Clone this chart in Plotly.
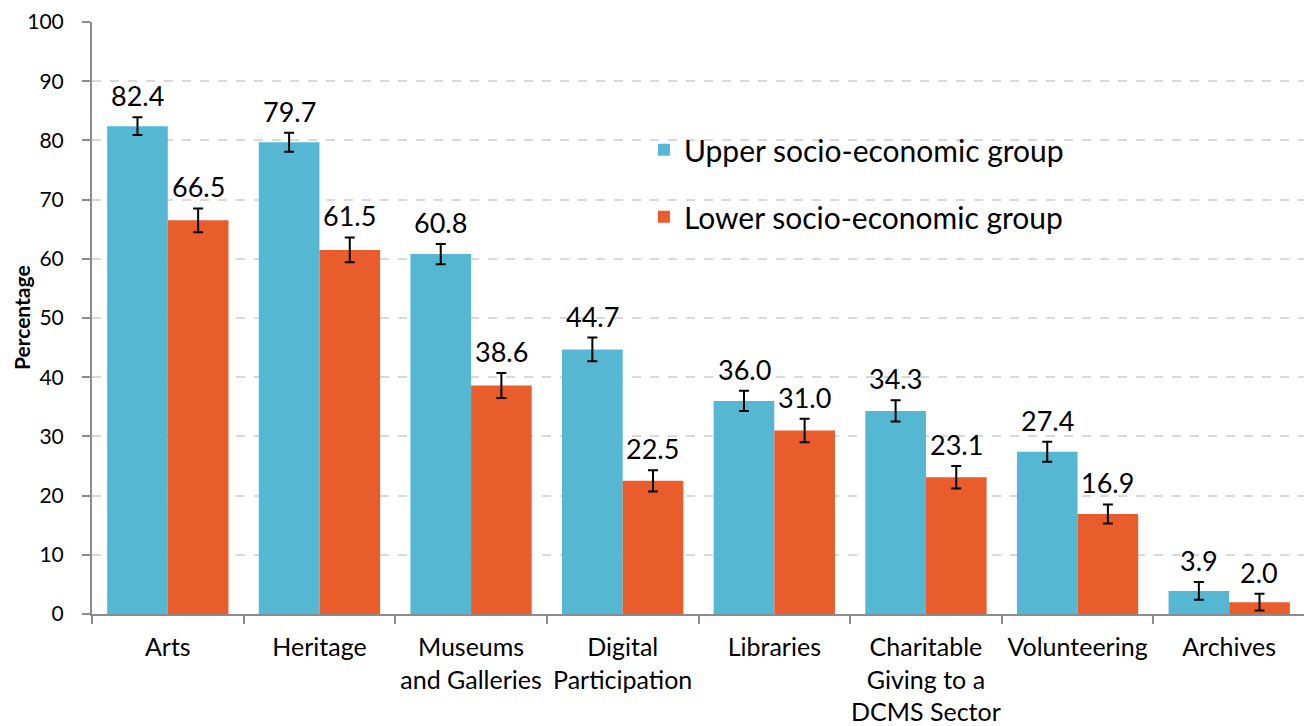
import plotly.graph_objects as go

categories = ["Arts", "Heritage", "Museums<br>and Galleries", "Digital<br>Participation",
              "Libraries", "Charitable<br>Giving to a<br>DCMS Sector", "Volunteering", "Archives"]
upper_values = [82.4, 79.7, 60.8, 44.7, 36.0, 34.3, 27.4, 3.9]
lower_values = [66.5, 61.5, 38.6, 22.5, 31.0, 23.1, 16.9, 2.0]
upper_errors = [1.5, 1.6, 1.7, 2.0, 1.7, 1.8, 1.7, 1.5]
lower_errors = [2.0, 2.1, 2.1, 1.8, 2.0, 1.9, 1.6, 1.4]
y_ticks = [0, 10, 20, 30, 40, 50, 60, 70, 80, 90, 100]

BLUE = "#56B7D3"
ORANGE = "#E95C2B"
FONT = "Lato, 'Open Sans', sans-serif"

fig = go.Figure()
fig.add_trace(go.Bar(
    x=categories, y=upper_values, name="Upper socio-economic group",
    marker=dict(color=BLUE, line=dict(width=0)),
    error_y=dict(type="data", array=upper_errors, color="black", thickness=2, width=5),
    legendgroup="u",
))
fig.add_trace(go.Bar(
    x=categories, y=lower_values, name="Lower socio-economic group",
    marker=dict(color=ORANGE, line=dict(width=0)),
    error_y=dict(type="data", array=lower_errors, color="black", thickness=2, width=5),
    legendgroup="l",
))

annotations = []
for c, v, e in zip(categories, upper_values, upper_errors):
    annotations.append(dict(x=c, y=v + e, xref="x", yref="y", text=f"{v:.1f}", showarrow=False,
                            xshift=-30.3, yanchor="bottom", yshift=3,
                            font=dict(family=FONT, size=27, color="black")))
for c, v, e in zip(categories, lower_values, lower_errors):
    annotations.append(dict(x=c, y=v + e, xref="x", yref="y", text=f"{v:.1f}", showarrow=False,
                            xshift=30.3, yanchor="bottom", yshift=3,
                            font=dict(family=FONT, size=27, color="black")))
annotations.append(dict(x=-0.0585, y=0.5, xref="paper", yref="paper", text="<b>Percentage</b>",
                        textangle=-90, showarrow=False, xanchor="center", yanchor="middle",
                        font=dict(family=FONT, size=21, color="black")))

fig.update_layout(
    width=1312, height=726,
    margin=dict(l=84, r=15, t=14, b=120),
    paper_bgcolor="white", plot_bgcolor="white",
    barmode="group", bargap=0.2, bargroupgap=0,
    font=dict(family=FONT, color="black"),
    showlegend=True,
    legend=dict(x=0.455, y=0.828, xanchor="left", yanchor="top",
                font=dict(family=FONT, size=30, color="black"),
                bgcolor="rgba(0,0,0,0)", traceorder="grouped", tracegroupgap=25,
                itemwidth=30),
    annotations=annotations,
    xaxis=dict(
        automargin=False, tickangle=0,
        showline=True, linecolor="#8c8c8c", linewidth=2,
        ticks="outside", tickson="boundaries", ticklen=8, tickcolor="#8c8c8c", tickwidth=2,
        tickfont=dict(family=FONT, size=25, color="black"),
        ticklabelstandoff=10,
        showgrid=False,
    ),
    yaxis=dict(
        automargin=False,
        range=[0, 100], tickvals=y_ticks, ticktext=[str(t) for t in y_ticks],
        showline=True, linecolor="#8c8c8c", linewidth=2,
        ticks="outside", ticklen=8, tickcolor="#8c8c8c", tickwidth=2,
        tickfont=dict(family=FONT, size=21, color="black"),
        ticklabelstandoff=14,
        showgrid=True, gridcolor="#d9d9d9", gridwidth=1.5, griddash="dash",
        zeroline=False,
    ),
)

fig.write_html("out.html")
